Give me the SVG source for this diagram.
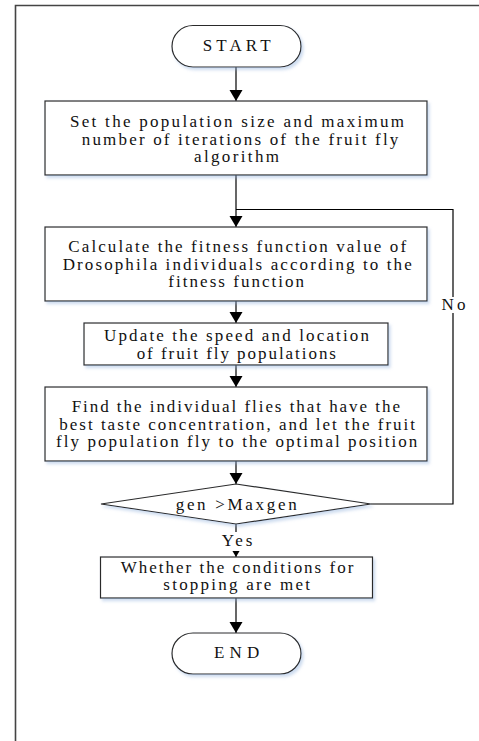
<svg xmlns="http://www.w3.org/2000/svg" width="479" height="741" viewBox="0 0 479 741">
<style>
.shape{fill:#fff;stroke:#2b2b2b;stroke-width:1.2;filter:url(#sh)}
.t{font-family:"Liberation Serif","Times New Roman",serif;font-size:17px;fill:#111;text-anchor:middle}
.c{fill:none;stroke:#000;stroke-width:1.2}
.frame{fill:none;stroke:#444;stroke-width:1.6}
</style>
<defs>
<filter id="sh" x="-10%" y="-10%" width="120%" height="130%">
<feDropShadow dx="2" dy="2.5" stdDeviation="1.6" flood-color="#8fb0dc" flood-opacity="0.45"/>
</filter>
<marker id="ah" markerUnits="userSpaceOnUse" markerWidth="12" markerHeight="14" refX="11" refY="6.5" orient="auto" viewBox="0 0 12 13">
<path d="M0,0 L11,6.5 L0,13 z" fill="#000"/>
</marker>
</defs>
<path class="frame" d="M15.5,741 V5.5 H479"/>
<g id="connectors">
<path class="c" d="M236,67 V101" marker-end="url(#ah)"/>
<path class="c" d="M236,175 V227" marker-end="url(#ah)"/>
<path class="c" d="M236,301 V323" marker-end="url(#ah)"/>
<path class="c" d="M236,365 V387" marker-end="url(#ah)"/>
<path class="c" d="M236,461 V484" marker-end="url(#ah)"/>
<path class="c" d="M371,504 H453 V209.5 H236"/>
<path class="c" d="M236,524 V557" marker-end="url(#ah)"/>
<path class="c" d="M236,598 V633" marker-end="url(#ah)"/>
<rect x="439" y="297" width="29" height="16" fill="#fff"/>
<text class="t" x="453.5" y="310" textLength="24">No</text>
<rect x="219" y="532" width="36" height="19" fill="#fff"/>
<text class="t" x="237" y="546" textLength="30.5">Yes</text>
</g>
<g id="start">
<rect class="shape" x="172" y="25.5" width="129" height="41.5" rx="21" ry="20.75"/>
<text class="t" x="236.7" y="51" textLength="68">START</text>
</g>
<g id="init">
<rect class="shape" x="45" y="101" width="382" height="74"/>
<text class="t" x="237" y="127" textLength="334">Set the population size and maximum</text>
<text class="t" x="240" y="144.5" textLength="316.6">number of iterations of the fruit fly</text>
<text class="t" x="236.5" y="162" textLength="85">algorithm</text>
</g>
<g id="fitness">
<rect class="shape" x="45" y="227" width="382" height="74"/>
<text class="t" x="237.2" y="252" textLength="337.7">Calculate the fitness function value of</text>
<text class="t" x="237.2" y="269.5" textLength="349">Drosophila individuals according to the</text>
<text class="t" x="236.2" y="287" textLength="135.7">fitness function</text>
</g>
<g id="update">
<rect class="shape" x="84" y="323" width="304" height="42"/>
<text class="t" x="236.5" y="341" textLength="265">Update the speed and location</text>
<text class="t" x="236.3" y="358.5" textLength="199.3">of fruit fly populations</text>
</g>
<g id="best">
<rect class="shape" x="45" y="387" width="382" height="74"/>
<text class="t" x="235.8" y="412" textLength="328.3">Find the individual flies that have the</text>
<text class="t" x="237.2" y="429.5" textLength="355.7">best taste concentration, and let the fruit</text>
<text class="t" x="236.7" y="447" textLength="361.3">fly population fly to the optimal position</text>
</g>
<g id="decision">
<polygon class="shape" points="236,484 371,504 236,524 101,504"/>
<text class="t" x="236.2" y="509.5" textLength="121">gen &gt;Maxgen</text>
</g>
<g id="stop">
<rect class="shape" x="100.5" y="557" width="272" height="41"/>
<text class="t" x="237" y="572.5" textLength="232.6">Whether the conditions for</text>
<text class="t" x="236.7" y="590" textLength="146.7">stopping are met</text>
</g>
<g id="end">
<rect class="shape" x="172" y="633" width="129" height="41" rx="21" ry="20.5"/>
<text class="t" x="236.7" y="658" textLength="45.3">END</text>
</g>
</svg>
